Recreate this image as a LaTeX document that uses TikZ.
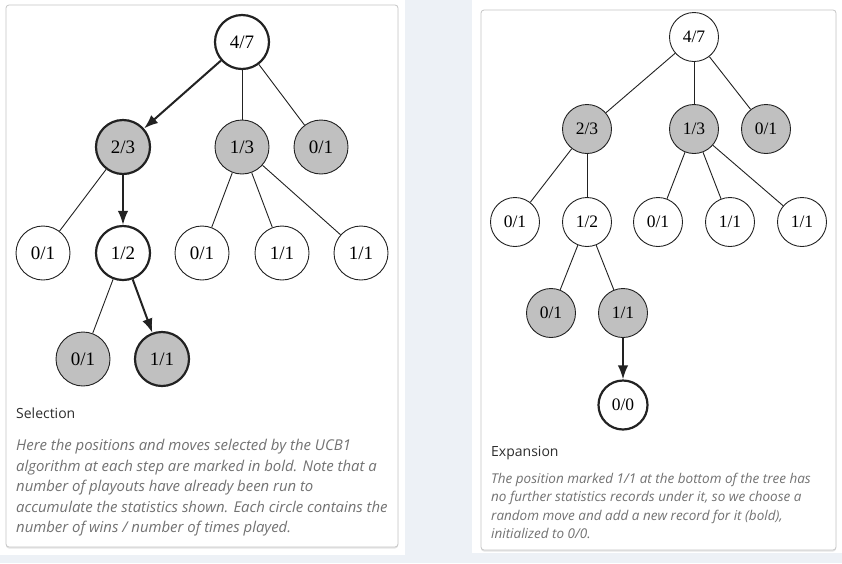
\documentclass[tikz,border=0pt]{standalone}
\usepackage{fontspec}
\setmainfont{Liberation Serif}
\setsansfont{Open Sans}
\usetikzlibrary{positioning,arrows.meta}
\definecolor{pagebg}{HTML}{EDF1F6}
\definecolor{framegray}{HTML}{C6C6C6}
\definecolor{captiongray}{HTML}{727272}
\definecolor{titlegray}{HTML}{2E2E2E}
\definecolor{edgegray}{HTML}{222222}
\definecolor{silver}{HTML}{C0C0C0}
\tikzset{
    stat/.style = {
        draw=edgegray,
        shape=circle,
        fill=white,
        minimum size=54pt,
        inner sep=0pt,
        line width=0.9pt,
        font=\fontsize{19}{19}\selectfont
    },
    small/.style = {
        minimum size=49pt,
        font=\fontsize{17.5}{17.5}\selectfont
    },
    visited/.style = {
        fill=silver
    },
    chosen/.style = {
        line width=2.2pt
    },
    edge/.style = {
        draw=edgegray,
        line width=0.9pt
    },
    move/.style = {
        draw=edgegray,
        line width=2pt,
        ->
    },
    panel/.style = {
        draw=framegray,
        fill=white,
        rounded corners=3pt,
        line width=0.8pt
    },
    title/.style = {
        anchor=west,
        inner sep=0pt,
        text=titlegray,
        font=\sffamily\fontsize{14}{16}\selectfont
    },
    caption/.style = {
        anchor=north west,
        inner sep=0pt,
        align=left,
        text=captiongray,
        font=\sffamily\itshape\fontsize{14.9}{20.5}\selectfont
    },
    >={Latex[length=14pt,width=10.5pt]},
}
\begin{document}
\begin{tikzpicture}[x=1pt,y=-1pt]
                \useasboundingbox (0,0) rectangle (842,563);
                \fill[pagebg] (0,0) rectangle (842,563);
                \fill[white] (0,0) rectangle (405,555);
                \fill[white] (472,0) rectangle (842,553);
                \fill[black!10, rounded corners=3pt] (6,6.5) rectangle (398,548.5);
                \fill[black!10, rounded corners=3pt] (481,11.5) rectangle (836,551.5);
                \path[panel] (6,5) rectangle (398,547);
                \path[panel] (481,10) rectangle (836,550);

                % selection
                \node[stat,chosen] (root) at (242,42) {4/7};
                \node[stat,visited,chosen] (a) at (123,147) {2/3};
                \node[stat,visited] (b) at (242,147) {1/3};
                \node[stat,visited] (c) at (321,147) {0/1};
                \node[stat] (aa) at (43,253) {0/1};
                \node[stat,chosen] (ab) at (123,253) {1/2};
                \node[stat] (ba) at (202,253) {0/1};
                \node[stat] (bb) at (282,253) {1/1};
                \node[stat] (bc) at (361,253) {1/1};
                \node[stat,visited] (aba) at (83,359) {0/1};
                \node[stat,visited,chosen] (abb) at (162,359) {1/1};

                \path[move] (root) -- (a);
                \path[edge] (root) -- (b);
                \path[edge] (root) -- (c);
                \path[edge] (a) -- (aa);
                \path[move] (a) -- (ab);
                \path[edge] (b) -- (ba);
                \path[edge] (b) -- (bb);
                \path[edge] (b) -- (bc);
                \path[edge] (ab) -- (aba);
                \path[move] (ab) -- (abb);

                \node[title] (seltitle) at (16,413) {Selection};
                \node[caption] (seltext) at (16,439) {Here the positions and moves selected by the UCB1\\
                    algorithm at each step are marked in bold. Note that a\\
                    number of playouts have already been run to\\
                    accumulate the statistics shown. Each circle contains the\\
                    number of wins / number of times played.};

                % expansion
                \node[stat,small] (eroot) at (694,37) {4/7};
                \node[stat,small,visited] (ea) at (587,129) {2/3};
                \node[stat,small,visited] (eb) at (694,129) {1/3};
                \node[stat,small,visited] (ec) at (766,129) {0/1};
                \node[stat,small] (eaa) at (515,222) {0/1};
                \node[stat,small] (eab) at (587,222) {1/2};
                \node[stat,small] (eba) at (658,222) {0/1};
                \node[stat,small] (ebb) at (730,222) {1/1};
                \node[stat,small] (ebc) at (802,222) {1/1};
                \node[stat,small,visited] (eaba) at (551,313) {0/1};
                \node[stat,small,visited] (eabb) at (623,313) {1/1};
                \node[stat,small,chosen] (enew) at (623,405) {0/0};

                \path[edge] (eroot) -- (ea);
                \path[edge] (eroot) -- (eb);
                \path[edge] (eroot) -- (ec);
                \path[edge] (ea) -- (eaa);
                \path[edge] (ea) -- (eab);
                \path[edge] (eb) -- (eba);
                \path[edge] (eb) -- (ebb);
                \path[edge] (eb) -- (ebc);
                \path[edge] (eab) -- (eaba);
                \path[edge] (eab) -- (eabb);
                \path[move] (eabb) -- (enew);

                \node[title] (exptitle) at (491,453) {Expansion};
                \node[caption,font=\sffamily\itshape\fontsize{13.5}{18.3}\selectfont] (exptext) at (491,473) {The position marked 1/1 at the bottom of the tree has\\
                    no further statistics records under it, so we choose a\\
                    random move and add a new record for it (bold),\\
                    initialized to 0/0.};
            \end{tikzpicture}
\end{document}
